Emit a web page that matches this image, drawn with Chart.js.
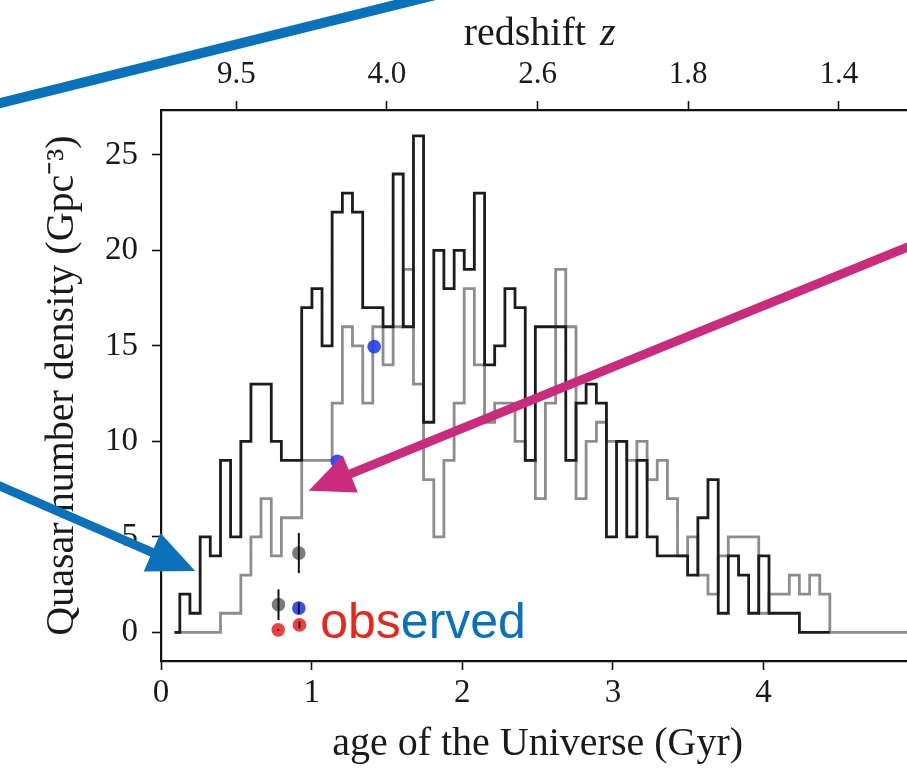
<!DOCTYPE html>
<html>
<head>
<meta charset="utf-8">
<script src="https://cdn.jsdelivr.net/npm/chart.js@4.4.1/dist/chart.umd.min.js"></script>
<style>
  html, body { margin: 0; padding: 0; overflow: hidden; background: #fff; }
  #wrap { width: 921px; height: 776px; }
</style>
</head>
<body>
<div id="wrap"><canvas id="chart" width="921" height="776"></canvas></div>
<script>
// histogram bin edges, age of the Universe (Gyr)
const ageEdges = [
  0.09, 0.125, 0.192, 0.260, 0.327, 0.395, 0.462, 0.530, 0.597, 0.664, 0.732,
  0.799, 0.867, 0.934, 1.002, 1.069, 1.136, 1.204, 1.271, 1.339, 1.406,
  1.474, 1.541, 1.608, 1.676, 1.743, 1.811, 1.878, 1.946, 2.013, 2.080,
  2.148, 2.215, 2.283, 2.350, 2.418, 2.485, 2.552, 2.620, 2.687, 2.755,
  2.822, 2.890, 2.957, 3.024, 3.092, 3.159, 3.227, 3.294, 3.362, 3.429,
  3.496, 3.564, 3.631, 3.699, 3.766, 3.834, 3.901, 3.968, 4.036, 4.103,
  4.171, 4.238, 4.306, 4.373, 4.440, 5.2
];
// quasar number density per bin (Gpc^-3)
const densityBlack = [
  0, 2, 1, 5, 4, 9, 5, 10, 13, 13, 10,
  9, 9, 17, 18, 15, 22, 23, 22, 17, 17,
  16, 24, 16, 26, 11, 20, 18, 20, 19, 23,
  14, 15, 18, 17, 9, 16, 16, 16, 9, 12,
  13, 12, 5, 10, 5, 9, 5, 4, 4, 4,
  3, 6, 8, 1, 4, 3, 1, 4, 1, 1,
  1, 0, 0, 0
];
const densityGray = [
  0, 0, 0, 0, 0, 1, 1, 3, 5, 7, 4,
  6, 6, 9, 9, 9, 12, 16, 15, 12, 16,
  14, 16, 19, 13, 8, 5, 9, 12, 18, 14,
  11, 12, 12, 10, 9, 7, 12, 19, 16, 7,
  10, 11, 10, 10, 9, 10, 8, 9, 7, 4,
  5, 3, 2, 4, 5, 5, 5, 1, 2, 2,
  3, 2, 3, 2, 0
];

// observed points
const grayObsAge = [0.78, 0.915];
const grayObsDensity = [1.45, 4.15];
const grayObsError = [0.8, 1.05];
const blueObsAge = [0.915, 1.17, 1.415];
const blueObsDensity = [1.27, 8.95, 14.96];
const blueObsError = [0.3, 0, 0];
const redObsAge = [0.778, 0.919];
const redObsDensity = [0.13, 0.39];
const redObsError = [0.05, 0.18];

// axes
const ageTicks = [0, 1, 2, 3, 4];
const densityTicks = [0, 5, 10, 15, 20, 25];
const redshiftTickAges = [0.5, 1.5, 2.5, 3.5, 4.5];
const redshiftLabels = ["9.5", "4.0", "2.6", "1.8", "1.4"];

const SERIF = '"Liberation Serif", "Times New Roman", serif';
const SANS = '"Liberation Sans", Arial, Helvetica, sans-serif';
const BLUE = "#0a72bb";
const MAGENTA = "#cb2b7c";

const stepPoints = (vals) => {
  const pts = vals.map((v, i) => ({ x: ageEdges[i], y: v }));
  pts.push({ x: ageEdges[vals.length], y: vals[vals.length - 1] });
  return pts;
};
const dots = (ages, dens) => ages.map((a, i) => ({ x: a, y: dens[i] }));

// arrows and labels sitting on top of the figure (data coordinates)
const drawArrow = (ctx, x0, y0, x1, y1, color, width, headLen, headHalf) => {
  const dx = x1 - x0, dy = y1 - y0;
  const len = Math.hypot(dx, dy);
  const ux = dx / len, uy = dy / len;
  const bx = x1 - ux * headLen, by = y1 - uy * headLen;
  ctx.strokeStyle = color;
  ctx.fillStyle = color;
  ctx.lineWidth = width;
  ctx.lineCap = "butt";
  ctx.beginPath();
  ctx.moveTo(x0, y0);
  ctx.lineTo(headLen ? bx + ux * 2 : x1, headLen ? by + uy * 2 : y1);
  ctx.stroke();
  if (headLen) {
    ctx.beginPath();
    ctx.moveTo(x1, y1);
    ctx.lineTo(bx - uy * headHalf, by + ux * headHalf);
    ctx.lineTo(bx + uy * headHalf, by - ux * headHalf);
    ctx.closePath();
    ctx.fill();
  }
};

const overlay = {
  id: "overlay",
  afterDatasetsDraw(chart) {
    const { ctx, scales: { x, y } } = chart;
    ctx.save();
    ctx.strokeStyle = "#111";
    ctx.lineWidth = 2;
    const bars = (ages, dens, errs) => ages.forEach((a, i) => {
      if (!errs[i]) return;
      const px = x.getPixelForValue(a);
      ctx.beginPath();
      ctx.moveTo(px, y.getPixelForValue(dens[i] - errs[i]));
      ctx.lineTo(px, y.getPixelForValue(dens[i] + errs[i]));
      ctx.stroke();
    });
    bars(grayObsAge, grayObsDensity, grayObsError);
    bars(blueObsAge, blueObsDensity, blueObsError);
    bars(redObsAge, redObsDensity, redObsError);
    ctx.restore();
  },
  afterDraw(chart) {
    const { ctx, scales: { x, y, xTop } } = chart;
    const X = (v) => x.getPixelForValue(v);
    const Y = (v) => y.getPixelForValue(v);
    ctx.save();

    // top axis title with italic z
    ctx.fillStyle = "#1a1a1a";
    ctx.textBaseline = "middle";
    ctx.font = "40px " + SERIF;
    const w1 = ctx.measureText("redshift ").width;
    ctx.font = "italic 40px " + SERIF;
    const w2 = ctx.measureText("z").width;
    const cx = (xTop.left + xTop.right) / 2 - (w1 + w2) / 2;
    ctx.font = "40px " + SERIF;
    ctx.fillText("redshift ", cx, 34);
    ctx.font = "italic 40px " + SERIF;
    ctx.fillText("z", cx + w1 + 4, 34);

    // "observed" label
    ctx.textBaseline = "alphabetic";
    ctx.font = "50px " + SANS;
    const tx = X(1.057), ty = Y(-0.29);
    ctx.fillStyle = "#e8261c";
    ctx.fillText("obs", tx, ty);
    const wo = ctx.measureText("obs").width;
    ctx.fillStyle = BLUE;
    ctx.fillText("erved", tx + wo, ty);

    // annotation arrows
    drawArrow(ctx, X(-1.125), Y(27.6), X(1.836), Y(33.40), BLUE, 10, 0, 0);
    drawArrow(ctx, X(-1.125), Y(7.85), X(0.227), Y(3.21), BLUE, 9, 47, 21);
    drawArrow(ctx, X(5.059), Y(20.5), X(0.980), Y(7.41), MAGENTA, 9, 45, 20);
    ctx.restore();
  }
};

const tickFont = { family: SERIF, size: 33 };
const titleFont = { family: SERIF, size: 40 };
const axisGrid = { drawOnChartArea: false, drawTicks: true, tickLength: 9, tickWidth: 1.6, tickColor: "#111" };
const axisBorder = { display: true, color: "#111", width: 2.2 };

new Chart(document.getElementById("chart"), {
  type: "scatter",
  data: {
    datasets: [
      { label: "red", data: dots(redObsAge, redObsDensity), backgroundColor: "rgba(236,42,42,0.9)", pointRadius: 6.8, borderWidth: 0 },
      { label: "blue", data: dots(blueObsAge, blueObsDensity), backgroundColor: "rgba(34,62,238,0.9)", pointRadius: 6.8, borderWidth: 0 },
      { label: "gray", data: dots(grayObsAge, grayObsDensity), backgroundColor: "rgba(90,90,90,0.8)", pointRadius: 6.8, borderWidth: 0 },
      { type: "line", label: "black", data: stepPoints(densityBlack), stepped: true, borderColor: "#1c1c1c", borderWidth: 2.8, pointRadius: 0, fill: false, borderJoinStyle: "miter" },
      { type: "line", label: "grey", data: stepPoints(densityGray), stepped: true, borderColor: "#8d8d8d", borderWidth: 2.8, pointRadius: 0, fill: false, borderJoinStyle: "miter" }
    ]
  },
  options: {
    responsive: false,
    animation: false,
    devicePixelRatio: 1,
    layout: { padding: 0 },
    plugins: { legend: { display: false }, tooltip: { enabled: false } },
    scales: {
      x: {
        type: "linear", position: "bottom", min: 0, max: 5,
        afterBuildTicks: (s) => { s.ticks = ageTicks.map((v) => ({ value: v })); },
        afterFit: (s) => { s.height = 115; },
        grid: axisGrid, border: axisBorder,
        ticks: { font: tickFont, color: "#1a1a1a", padding: 4, maxRotation: 0, autoSkip: false },
        title: { display: true, text: "age of the Universe (Gyr)", font: titleFont, color: "#1a1a1a", padding: { top: 0, bottom: 8 } }
      },
      xTop: {
        type: "linear", position: "top", min: 0, max: 5,
        afterBuildTicks: (s) => { s.ticks = redshiftTickAges.map((v) => ({ value: v })); },
        afterFit: (s) => { s.height = 110; },
        grid: axisGrid, border: axisBorder,
        ticks: { font: { family: SERIF, size: 31 }, color: "#1a1a1a", padding: 8, maxRotation: 0, autoSkip: false,
          callback: (v) => redshiftLabels[redshiftTickAges.indexOf(v)] }
      },
      y: {
        type: "linear", min: -1.5, max: 27.35,
        afterBuildTicks: (s) => { s.ticks = densityTicks.map((v) => ({ value: v })); },
        afterFit: (s) => { s.width = 161; },
        grid: axisGrid, border: axisBorder,
        ticks: { font: tickFont, color: "#1a1a1a", padding: 14 },
        title: { display: true, text: "Quasar number density (Gpc\u207B\u00B3)", font: titleFont, color: "#1a1a1a", padding: { top: 38, bottom: 0 } }
      }
    }
  },
  plugins: [overlay]
});
</script>
</body>
</html>
